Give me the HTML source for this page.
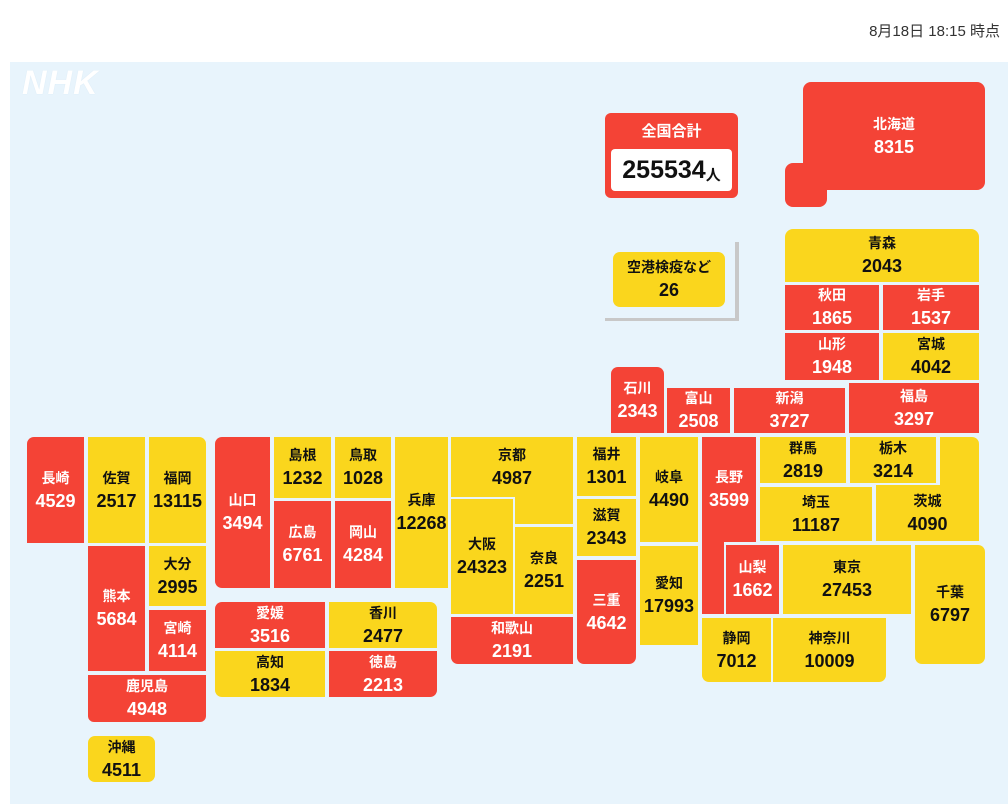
<!DOCTYPE html>
<html><head><meta charset="utf-8">
<style>
body{margin:0;width:1008px;height:804px;background:#fff;position:relative;overflow:hidden;font-family:"Liberation Sans","Noto Sans CJK JP",sans-serif}
#ts{position:absolute;right:8px;top:20px;font-size:15px;color:#333}
#panel{position:absolute;left:10px;top:62px;width:998px;height:742px;background:#e8f4fc}
.t{position:absolute;display:flex;flex-direction:column;align-items:center;justify-content:center;font-weight:bold;box-sizing:border-box}
.r{background:#f44336;color:#fff}
.y{background:#fad61d;color:#111}
.t .l{font-size:14px;line-height:21px}
.t .n{font-size:18px;line-height:24px}
#logo{position:absolute;left:22px;top:64px;font-size:34px;font-weight:bold;font-style:italic;color:#fff;letter-spacing:1px;text-shadow:0 0 1px #cfe3f1}
</style></head><body>
<div id="ts">8月18日 18:15 時点</div>
<div id="panel"></div>
<div id="logo">NHK</div>

<div class="t r" style="left:605px;top:113px;width:133px;height:85px;border-radius:6px;justify-content:flex-start;padding-top:8px">
 <div class="l" style="font-size:15px">全国合計</div>
 <div style="position:absolute;left:6px;top:36px;width:121px;height:42px;background:#fff;border-radius:4px;color:#111;display:flex;align-items:center;justify-content:center;font-size:25px;font-weight:bold">255534<span style="font-size:15px;margin-top:8px">人</span></div>
</div>
<div style="position:absolute;left:735px;top:242px;width:4px;height:79px;background:#c8c8c8"></div>
<div style="position:absolute;left:605px;top:318px;width:134px;height:3px;background:#c8c8c8"></div>
<div class="t y" style="left:613px;top:252px;width:112px;height:55px;border-radius:7px"><div class="l">空港検疫など</div><div class="n">26</div></div>

<div id="tiles"></div>
<script>
// prefecture names, values, and colour category (r = red, y = yellow)
const names=["北海道","青森","秋田","岩手","山形","宮城","石川","富山","新潟","福島","福井","岐阜","長野","群馬","栃木","滋賀","埼玉","茨城","京都","大阪","奈良","三重","愛知","山梨","東京","千葉","和歌山","静岡","神奈川","長崎","佐賀","福岡","熊本","大分","宮崎","鹿児島","沖縄","山口","島根","鳥取","広島","岡山","兵庫","愛媛","香川","高知","徳島"];
const values=[8315,2043,1865,1537,1948,4042,2343,2508,3727,3297,1301,4490,3599,2819,3214,2343,11187,4090,4987,24323,2251,4642,17993,1662,27453,6797,2191,7012,10009,4529,2517,13115,5684,2995,4114,4948,4511,3494,1232,1028,6761,4284,12268,3516,2477,1834,2213];
const colors=["r","y","r","r","r","y","r","r","r","r","y","y","r","y","y","y","y","y","y","y","y","r","y","r","y","y","r","y","y","r","y","y","r","y","r","r","y","r","y","y","r","r","y","r","y","y","r"];
// tile-map layout (x,y,w,h,border-radius), plus extra pieces for L-shapes
const layout={
"北海道":[803,82,182,108,"8px 8px 8px 0"],"青森":[785,229,194,53,"8px 8px 0 0"],"秋田":[785,285,94,45,"0"],"岩手":[883,285,96,45,"0"],
"山形":[785,333,94,47,"0"],"宮城":[883,333,96,47,"0"],"石川":[611,367,53,66,"7px 7px 0 0"],"富山":[667,388,63,45,"0"],
"新潟":[734,388,111,45,"0"],"福島":[849,383,130,50,"0"],"福井":[577,437,59,59,"0"],"岐阜":[640,437,58,105,"0"],
"長野":[702,437,54,105,"0"],"群馬":[760,437,86,46,"0"],"栃木":[850,437,86,46,"0"],"滋賀":[577,499,59,57,"0"],
"埼玉":[760,487,112,54,"0"],"茨城":[876,485,103,56,"0"],"京都":[451,437,122,60,"0"],"大阪":[451,499,62,115,"0"],
"奈良":[515,527,58,87,"0"],"三重":[577,560,59,104,"0 0 7px 7px"],"愛知":[640,546,58,99,"0"],"山梨":[726,545,53,69,"0"],
"東京":[783,545,128,69,"0"],"千葉":[915,545,70,119,"0 7px 7px 7px"],"和歌山":[451,617,122,47,"0 0 0 7px"],"静岡":[702,618,69,64,"0 0 0 7px"],
"神奈川":[773,618,113,64,"0 0 7px 0"],"長崎":[27,437,57,106,"7px 0 0 0"],"佐賀":[88,437,57,106,"0"],"福岡":[149,437,57,106,"0 7px 0 0"],
"熊本":[88,546,57,125,"0"],"大分":[149,546,57,60,"0"],"宮崎":[149,610,57,61,"0"],"鹿児島":[88,675,118,47,"0 0 6px 6px"],
"沖縄":[88,736,67,46,"7px"],"山口":[215,437,55,151,"7px 0 0 7px"],"島根":[274,437,57,61,"0"],"鳥取":[335,437,56,61,"0"],
"広島":[274,501,57,87,"0"],"岡山":[335,501,56,87,"0"],"兵庫":[395,437,53,151,"0"],"愛媛":[215,602,110,46,"7px 0 0 0"],
"香川":[329,602,108,46,"0 7px 0 0"],"高知":[215,651,110,46,"0 0 0 7px"],"徳島":[329,651,108,46,"0 0 7px 0"]};
const extras={"北海道":[785,163,42,44,"8px 0 8px 8px"],"京都":[515,495,58,29,"0"],"茨城":[940,437,39,50,"0 7px 0 0"],"長野":[702,540,22,74,"0"]};
const box=document.getElementById('tiles');
function mk(x,y,w,h,r,c){const d=document.createElement('div');d.className='t '+c;d.style.cssText=`left:${x}px;top:${y}px;width:${w}px;height:${h}px;border-radius:${r}`;box.appendChild(d);return d;}
names.forEach((nm,i)=>{
  const c=colors[i];
  if(extras[nm]){const e=extras[nm];const p=mk(e[0],e[1],e[2],e[3],e[4],c);
    
    }
  const L=layout[nm];const d=mk(L[0],L[1],L[2],L[3],L[4],c);
  
  
  const a=document.createElement('div');a.className='l';a.textContent=nm;
  
  
  const b=document.createElement('div');b.className='n';b.textContent=values[i];
  
  
  d.appendChild(a);d.appendChild(b);
});
</script>
</body></html>
